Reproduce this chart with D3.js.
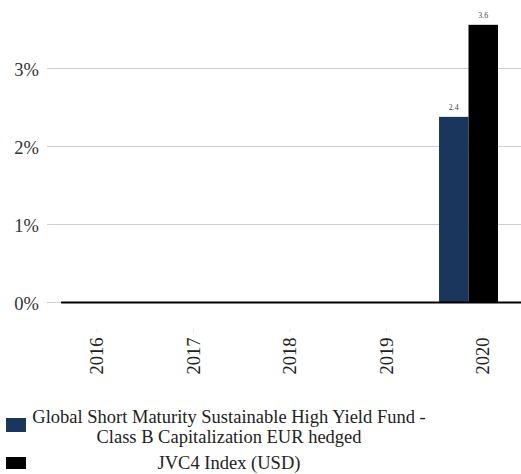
<!DOCTYPE html>
<html>
<head>
<meta charset="utf-8">
<script src="https://cdn.jsdelivr.net/npm/d3@7"></script>
<style>
  body { margin: 0; background: #fff; }
  svg { display: block; }
  text { font-family: "Liberation Serif", "Times New Roman", serif; }
</style>
</head>
<body>
<svg id="chart" width="521" height="474"></svg>
<script>
// chart data
const years = ["2016", "2017", "2018", "2019", "2020"];
const fundValues = [0, 0, 0, 0, 2.38];
const indexValues = [0, 0, 0, 0, 3.56];
const fundLabels = ["", "", "", "", "2.4"];
const indexLabels = ["", "", "", "", "3.6"];
const yTicks = [0, 1, 2, 3];
const seriesNames = ["Global Short Maturity Sustainable High Yield Fund -\nClass B Capitalization EUR hedged", "JVC4 Index (USD)"];
const seriesColors = ["#1b365d", "#000000"];

const svg = d3.select("#chart");

const plotLeft = 47, plotRight = 521;
const y = d3.scaleLinear().domain([0, 3]).range([302.5, 68.5]);

// step ~96.5px, bar pair ~59px wide
const x = d3.scaleBand()
  .domain(years)
  .range([34.25, 516.75])
  .paddingInner(0.389)
  .paddingOuter(0.1945);

const xs = d3.scaleBand()
  .domain([0, 1])
  .range([0, x.bandwidth()]);

// gridlines
svg.append("g")
  .selectAll("line")
  .data(yTicks)
  .join("line")
  .attr("x1", plotLeft)
  .attr("x2", plotRight)
  .attr("y1", d => y(d))
  .attr("y2", d => y(d))
  .attr("stroke", "#cfcfcf")
  .attr("stroke-width", 1);

// y labels
svg.append("g")
  .selectAll("text")
  .data(yTicks)
  .join("text")
  .attr("x", 39)
  .attr("y", d => y(d) + 7)
  .attr("text-anchor", "end")
  .attr("font-size", 18.5)
  .attr("fill", "#333")
  .text(d => d + "%");

// bars
const series = [fundValues, indexValues];
const labels = [fundLabels, indexLabels];
series.forEach((vals, s) => {
  const g = svg.append("g");
  g.selectAll("rect")
    .data(vals)
    .join("rect")
    .attr("x", (d, i) => x(years[i]) + xs(s))
    .attr("width", xs.bandwidth())
    .attr("y", d => y(d))
    .attr("height", d => y(0) - y(d))
    .attr("fill", seriesColors[s]);
  g.selectAll("text")
    .data(vals)
    .join("text")
    .attr("x", (d, i) => x(years[i]) + xs(s) + xs.bandwidth() / 2)
    .attr("y", d => y(d) - 7)
    .attr("text-anchor", "middle")
    .attr("font-size", 8)
    .attr("fill", "#444")
    .text((d, i) => labels[s][i]);
});

// baseline
svg.append("line")
  .attr("x1", 61)
  .attr("x2", plotRight)
  .attr("y1", y(0))
  .attr("y2", y(0))
  .attr("stroke", "#000")
  .attr("stroke-width", 2);

// x labels
const lx = d => x(d) + x.bandwidth() / 2 + 14.5;
const xl = svg.append("g");
xl.selectAll("line")
  .data(years)
  .join("line")
  .attr("x1", lx)
  .attr("x2", lx)
  .attr("y1", 329)
  .attr("y2", 333)
  .attr("stroke", "#ddd")
  .attr("stroke-dasharray", "1,1");
xl.selectAll("text")
  .data(years)
  .join("text")
  .attr("transform", d => `translate(${lx(d) + 6},356) rotate(-90)`)
  .attr("text-anchor", "middle")
  .attr("font-size", 18.5)
  .attr("fill", "#222")
  .text(d => d);

// legend
const legend = svg.append("g");
const legendRows = [
  { sy: 418, sh: 14, lines: seriesNames[0].split("\n"), ty: 423 },
  { sy: 457, sh: 12, lines: [seriesNames[1]], ty: 469 }
];
legendRows.forEach((r, i) => {
  legend.append("rect")
    .attr("x", 6)
    .attr("y", r.sy)
    .attr("width", 20)
    .attr("height", r.sh)
    .attr("fill", seriesColors[i]);
  r.lines.forEach((t, j) => {
    legend.append("text")
      .attr("x", 229)
      .attr("y", r.ty + j * 20)
      .attr("text-anchor", "middle")
      .attr("font-size", 18.5)
      .attr("fill", "#222")
      .text(t);
  });
});
</script>
</body>
</html>
